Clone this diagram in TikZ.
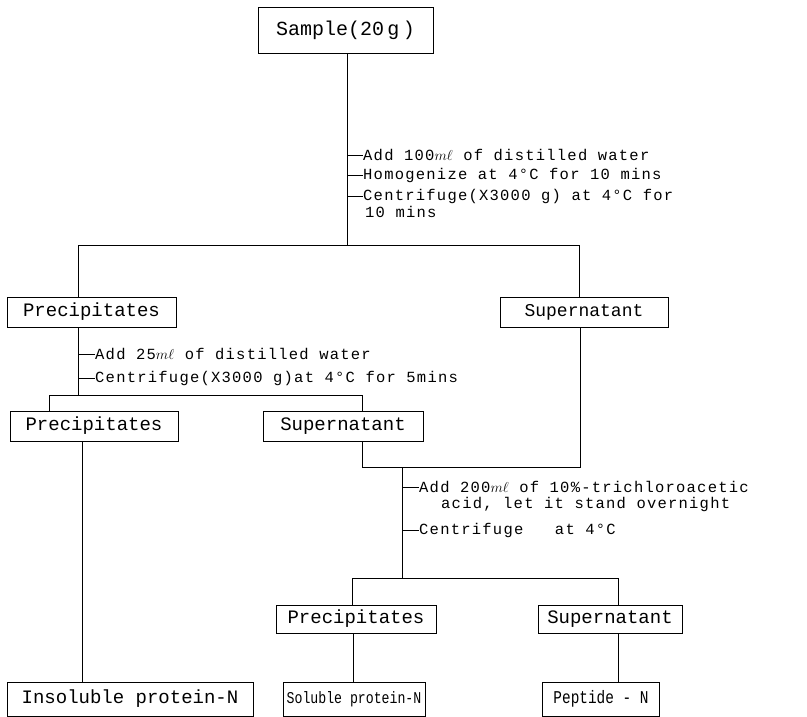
\documentclass[tikz,border=0pt]{standalone}
\usepackage{fontspec}
\setmonofont{Liberation Mono}
\newfontfamily\notefont[LetterSpace=8]{Liberation Mono}
\newfontfamily\narrowfont[FakeStretch=0.8]{Liberation Mono}
\begin{document}
\begin{tikzpicture}[x=1pt,y=-1pt,
  boxnode/.style={draw,line width=0.8pt,rectangle,inner sep=0pt,font=\ttfamily\fontsize{19}{22}\selectfont},
  note/.style={anchor=west,inner sep=0pt,font=\notefont\fontsize{15.5}{18}\selectfont},
  link/.style={line width=0.8pt}]
\useasboundingbox (0,0) rectangle (807,716);
% boxes
\node[boxnode,minimum width=175pt,minimum height=46pt,font=\ttfamily\fontsize{20}{22}\selectfont] (sample) at (345.5,30) {Sample(20\,g\,)};
\node[boxnode,minimum width=169pt,minimum height=30pt] (p1) at (91.5,312) {Precipitates};
\node[boxnode,minimum width=168pt,minimum height=30pt,font=\ttfamily\fontsize{18}{20}\selectfont] (s1) at (584,312) {Supernatant};
\node[boxnode,minimum width=168pt,minimum height=30pt] (p2) at (94,426) {Precipitates};
\node[boxnode,minimum width=160pt,minimum height=30pt] (s2) at (343,426) {Supernatant};
\node[boxnode,minimum width=160pt,minimum height=28pt] (p3) at (356,619) {Precipitates};
\node[boxnode,minimum width=144pt,minimum height=28pt] (s3) at (610,619) {Supernatant};
\node[boxnode,minimum width=246pt,minimum height=34pt] (insol) at (130,699) {Insoluble protein-N};
\node[boxnode,minimum width=142pt,minimum height=34pt,font=\narrowfont\fontsize{16.5}{18}\selectfont] (sol) at (354,699) {Soluble protein-N};
\node[boxnode,minimum width=117pt,minimum height=34pt,font=\narrowfont\fontsize{18}{20}\selectfont] (pep) at (601,699) {Peptide - N};
% junctions
\coordinate (j1) at (347,245);
\coordinate (b1l) at (78,245);
\coordinate (b1r) at (579,245);
\coordinate (j2) at (78,395);
\coordinate (b2l) at (49,395);
\coordinate (b2r) at (362,395);
\coordinate (j3) at (362,467);
\coordinate (j3r) at (580,467);
\coordinate (j4) at (402,467);
\coordinate (b3l) at (352,578);
\coordinate (b3r) at (618,578);
\coordinate (j5) at (402,578);
\coordinate (c1) at (82,682);
\coordinate (c2) at (353,682);
\coordinate (c3) at (618,682);
% tick points
\coordinate (t1) at (347,155);
\coordinate (t2) at (347,175);
\coordinate (t3) at (347,196);
\coordinate (t4) at (78,354);
\coordinate (t5) at (78,378);
\coordinate (t6) at (402,487);
\coordinate (t7) at (402,530);
% notes
\node[note] (n1) at (363,155) {Add 100$m\ell$ of distilled water};
\node[note] (n2) at (363,175) {Homogenize at 4°C for 10 mins};
\node[note] (n3) at (363,196) {Centrifuge(X3000 g) at 4°C for};
\node[note] (n3b) at (365,212) {10 mins};
\node[note] (n4) at (95,354) {Add 25$m\ell$ of distilled water};
\node[note] (n5) at (95,378) {Centrifuge(X3000 g)at 4°C for 5mins};
\node[note] (n6) at (419,487) {Add 200$m\ell$ of 10\%-trichloroacetic};
\node[note] (n6b) at (441,504) {acid, let it stand overnight};
\node[note] (n7) at (419,530) {Centrifuge~~ at 4°C};
% connectors
\draw[link] (sample.south -| j1) -- (j1);
\draw[link] (b1l |- p1.north) -- (b1l) -- (b1r) -- (b1r |- s1.north);
\draw[link] (p1.south -| j2) -- (j2);
\draw[link] (b2l |- p2.north) -- (b2l) -- (b2r) -- (b2r |- s2.north);
\draw[link] (s2.south -| j3) -- (j3) -- (j3r) -- (s1.south -| j3r);
\draw[link] (j4) -- (j5);
\draw[link] (b3l |- p3.north) -- (b3l) -- (b3r) -- (b3r |- s3.north);
\draw[link] (p2.south -| c1) -- (c1 |- insol.north);
\draw[link] (p3.south -| c2) -- (c2 |- sol.north);
\draw[link] (s3.south -| c3) -- (c3 |- pep.north);
% ticks
\draw[link] (t1) -- (n1.west);
\draw[link] (t2) -- (n2.west);
\draw[link] (t3) -- (n3.west);
\draw[link] (t4) -- (n4.west);
\draw[link] (t5) -- (n5.west);
\draw[link] (t6) -- (n6.west);
\draw[link] (t7) -- (n7.west);
\end{tikzpicture}
\end{document}
